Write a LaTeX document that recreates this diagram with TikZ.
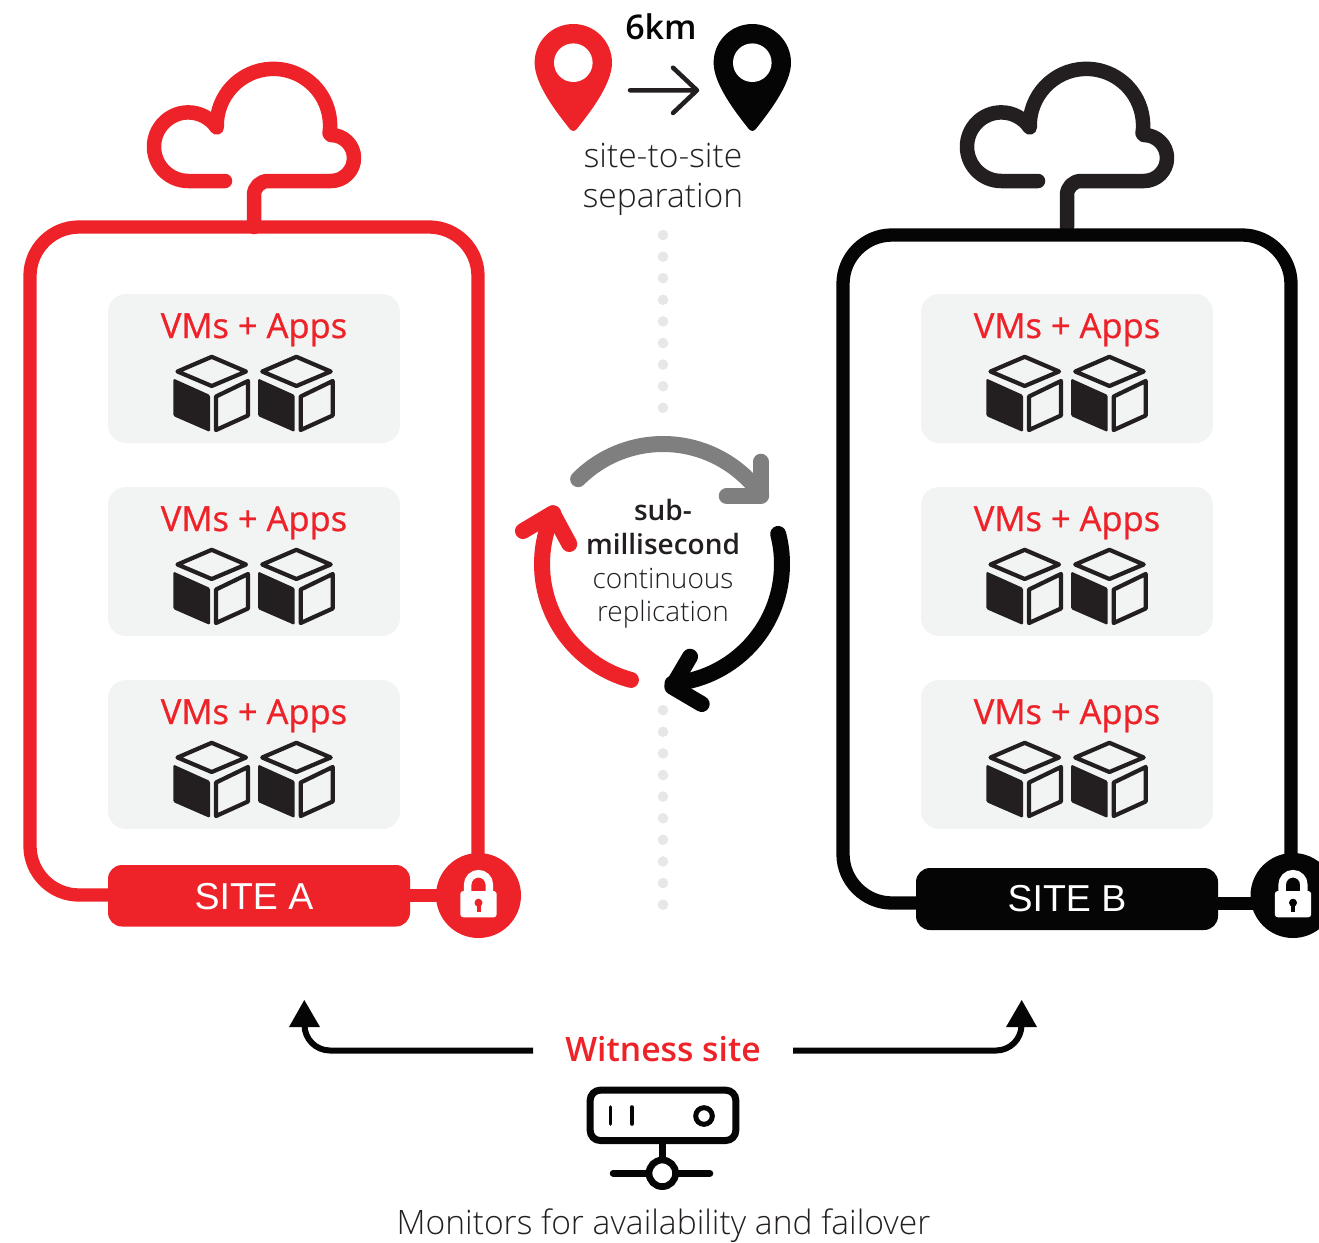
\documentclass[tikz,border=0pt]{standalone}
\usepackage{fontspec}
\setmainfont{Open Sans}
\newfontfamily\oslight{Open Sans Light}
\newfontfamily\ossemi{Open Sans Semibold}
\newfontfamily\osmed[FakeBold=0.8]{Open Sans}
\newfontfamily\arialf{Liberation Sans}
\definecolor{cred}{HTML}{ED2329}
\definecolor{cblack}{HTML}{050505}
\definecolor{cdark}{HTML}{231F20}
\definecolor{cgrey}{HTML}{7F7F7F}
\definecolor{cpanel}{HTML}{F2F4F4}
\definecolor{cdot}{HTML}{E6E7E8}
\tikzset{
  panel/.style={fill=cpanel,draw=none,rounded corners=18pt},
  paneltext/.style={text=cred,font=\osmed\fontsize{34.5}{34.5}\selectfont,anchor=base},
  sitepill/.style={rounded corners=14pt,draw=none},
  sitetext/.style={text=white,font=\arialf\fontsize{37.5}{37.5}\selectfont,anchor=base},
  frame/.style={line width=13.3pt,rounded corners=49pt},
  cloudline/.style={line width=14.5pt,line cap=round,line join=round},
  repl/.style={line width=16pt,line cap=round,line join=round},
  lighttext/.style={font=\oslight\fontsize{33.6}{33.6}\selectfont,text=cdark,anchor=base},
  repltext/.style={font=\oslight\fontsize{28}{28}\selectfont,text=cdark,anchor=base},
  replbold/.style={font=\ossemi\fontsize{28}{28}\selectfont,text=cdark,anchor=base},
  witness/.style={line width=6pt}
}
% cube shape
\newcommand{\cubeshape}{%
  \fill[cdark,rounded corners=1.5pt] (173.3,378.5)--(210,395)--(210,432)--(173.3,416)--cycle;
  \draw[cdark,line width=4.2pt,line join=round] (211.7,356.8)--(246,371.5)--(211.7,386)--(177.5,371.5)--cycle;
  \draw[cdark,line width=4.2pt,line join=round] (216,396.5)--(248,381)--(248,415.5)--(216,430)--cycle;
}
\newcommand{\lockshape}[1]{%
  % relative to the centre of the circle
  \draw[white,line width=7.5pt] (-10.8,3)--(-10.8,-11) arc (180:360:10.8) --(10.8,3);
  \fill[white,rounded corners=3pt] (-18.2,-4.5) rectangle (18.2,21.8);
  \fill[#1] (0,7.2) circle (4);
  \fill[#1] (-2,7.2) rectangle (2,16);
}
\newcommand{\pinshape}[1]{%
  \fill[#1] (-38.7,62.7) arc (180:360:38.7)
    .. controls (38.7,84) and (17,112) .. (3.5,129)
    .. controls (1.5,131.5) and (-1.5,131.5) .. (-3.5,129)
    .. controls (-17,112) and (-38.7,84) .. (-38.7,62.7) -- cycle;
  \fill[white] (0,62.7) circle (19.3);
}
\newcommand{\cloudpath}[1]{%
  \draw[#1,cloudline] (225,181)--(188.3,181) arc (90:326:34.3)
     arc (178:368:56.7) -- (331,135) arc (270:450:23)
     -- (268,181) arc (270:180:14) -- (254,227);
}
\begin{document}
\begin{tikzpicture}[x=1pt,y=1pt,yscale=-1]
\useasboundingbox (0,0) rectangle (1319,1242);
% dotted separator
\foreach \k in {0,...,31}
  \fill[cdot] (663,{235+21.6*\k}) circle (5.3);
\fill[white] (663,564) circle (140);

% left site
\cloudpath{cred}
\draw[cred,frame] (120,895) -- (30,895) -- (30,227) -- (478,227) -- (478,880);
\draw[cred,line width=13pt] (400,895) -- (450,895);
\node[fill=cred,circle,minimum size=85pt,inner sep=0pt] (lockA) at (478.5,895.5) {};
\begin{scope}[shift={(478.5,895.5)}]\lockshape{cred}\end{scope}
\fill[cred,sitepill] (108,865) rectangle (410,926.5);
\node[sitetext] (siteA) at (254,909.5) {SITE A};

% right site
\begin{scope}[shift={(813,0)}]\cloudpath{cdark}\end{scope}
\draw[cblack,frame] (930,903) -- (843,903) -- (843,235) -- (1291,235) -- (1291,880);
\draw[cblack,line width=13pt] (1210,903) -- (1265,903);
\node[fill=cblack,circle,minimum size=85pt,inner sep=0pt] (lockB) at (1293,895.5) {};
\begin{scope}[shift={(1293,895.5)}]\lockshape{cblack}\end{scope}
\fill[cblack,sitepill] (916,868) rectangle (1218,930);
\node[sitetext] (siteB) at (1067,911.5) {SITE B};

% panels
\foreach \dx/\tag in {0/L,813/R}{
  \foreach \dy/\row in {0/a,193/b,386/c}{
    \begin{scope}[shift={(\dx,\dy)}]
      \fill[panel] (108,294) rectangle (400,443);
      \node[paneltext] (vm\tag\row) at (254,338) {VMs + Apps};
      \cubeshape
      \begin{scope}[shift={(84.7,0)}]\cubeshape\end{scope}
    \end{scope}
  }
}

% pins
\begin{scope}[shift={(573.3,0)}]\pinshape{cred}\end{scope}
\begin{scope}[shift={(752.3,0)}]\pinshape{cblack}\end{scope}
\draw[cdark,line width=4.5pt,line cap=round,line join=round] (630,90.3)--(697,90.3) (673,67.7)--(697,90.3)--(673,113);
\node[font=\ossemi\fontsize{34}{34}\selectfont,text=cblack,anchor=base] (dist) at (661,39) {6km};
\node[lighttext] (sep1) at (663,167) {site-to-site};
\node[lighttext] (sep2) at (663,207) {separation};

% replication ring
\draw[cgrey,repl] (663,564) ++(-135:120) arc (-135:-35:120);
\draw[cgrey,repl] (760.7,461.7)--(760.7,496)--(726.7,496);
\draw[cblack,repl] (662,564) ++(-14.5:120) arc (-14.5:85:120);
\draw[cblack,repl] (690,656.7)--(672.3,686.7)--(701.7,704);
\draw[cred,repl] (662,564) ++(105:120) arc (105:205:120);
\draw[cred,repl] (523,531)--(552.7,513.3)--(569.3,544);
\node[replbold] (r1) at (663,520.5) {sub-};
\node[replbold] (r2) at (663,554) {millisecond};
\node[repltext] (r3) at (663,588) {continuous};
\node[repltext] (r4) at (663,621.5) {replication};

% witness
\node[font=\ossemi\fontsize{33.7}{33.7}\selectfont,text=cred,anchor=base] (wit) at (663,1061) {Witness site};
\coordinate (wl) at (533,1050.5);
\coordinate (wr) at (793,1050.5);
\draw[cblack,witness] (wl) -- (330,1050.5) arc (90:180:25.5);
\fill[cblack] (304.3,1000)--(320,1027)--(289,1027)--cycle;
\draw[cblack,witness] (wr) -- (996,1050.5) arc (90:0:25.5);
\fill[cblack] (1021.7,1000)--(1037,1027)--(1006,1027)--cycle;

% server
\draw[cblack,line width=7pt,rounded corners=10pt] (590.2,1090.2) rectangle (735.8,1140.5);
\draw[cblack,line width=3.6pt,line cap=round] (610.3,1107)--(610.3,1124) (631.7,1107)--(631.7,1124);
\draw[cblack,line width=5pt] (704,1116) circle (8.3);
\draw[cblack,line width=7pt] (662.3,1144)--(662.3,1162);
\draw[cblack,line width=6.5pt,line cap=round] (613,1173.3)--(710,1173.3);
\draw[cblack,line width=6.7pt,fill=white] (662.3,1173.3) circle (13.3);
\node[lighttext] (mon) at (663.5,1234) {Monitors for availability and failover};
\end{tikzpicture}
\end{document}
